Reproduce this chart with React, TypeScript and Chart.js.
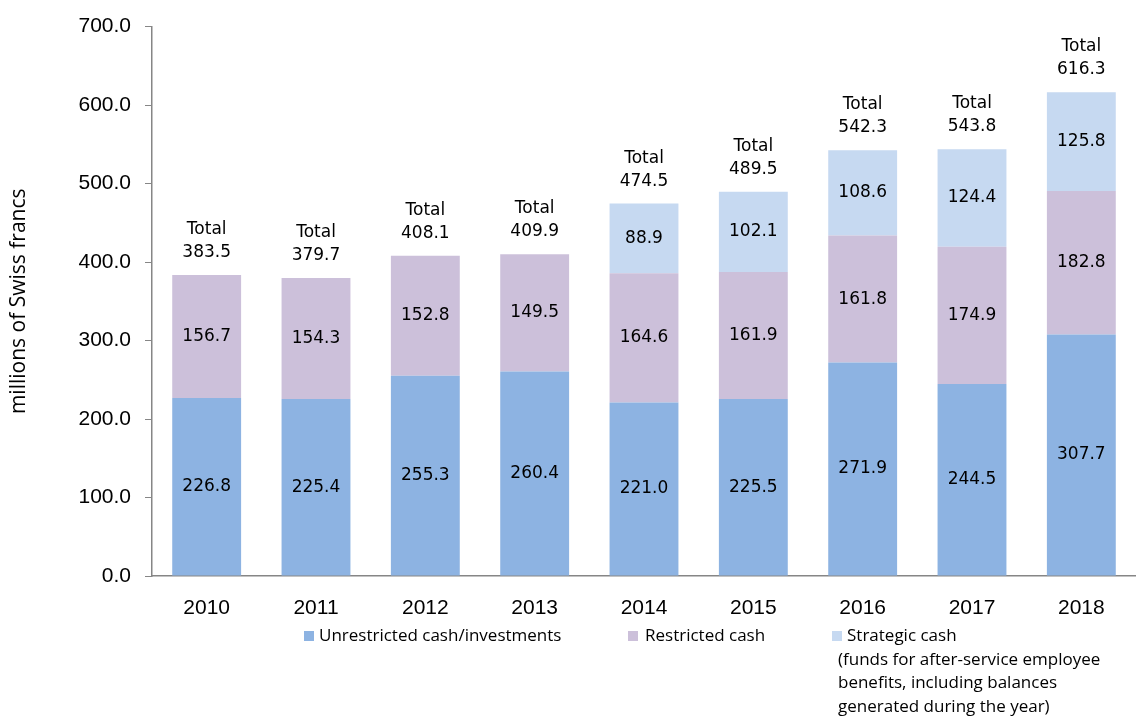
import React, { useEffect, useRef } from "react";
import { Chart, registerables } from "chart.js";

Chart.register(...registerables);

const years = ["2010", "2011", "2012", "2013", "2014", "2015", "2016", "2017", "2018"];
const unrestricted = [226.8, 225.4, 255.3, 260.4, 221.0, 225.5, 271.9, 244.5, 307.7];
const restricted = [156.7, 154.3, 152.8, 149.5, 164.6, 161.9, 161.8, 174.9, 182.8];
const strategic = [0, 0, 0, 0, 88.9, 102.1, 108.6, 124.4, 125.8];
const totals = [383.5, 379.7, 408.1, 409.9, 474.5, 489.5, 542.3, 543.8, 616.3];

const seriesNames = ["Unrestricted cash/investments", "Restricted cash", "Strategic cash"];
const strategicNote = [
  "(funds for after-service employee",
  "benefits, including balances",
  "generated during the year)",
];
const colors = ["#8DB3E2", "#CCC0DA", "#C6D9F1"];

const labelFont = '17px "DejaVu Sans", sans-serif';
const legendFont = '17px "Open Sans", sans-serif';

const labelsPlugin = {
  id: "barLabels",
  afterDatasetsDraw(chart: any) {
    const ctx = chart.ctx;
    ctx.save();
    ctx.font = labelFont;
    ctx.fillStyle = "#000";
    ctx.textAlign = "center";
    ctx.textBaseline = "middle";
    chart.data.datasets.forEach((ds: any, i: number) => {
      const meta = chart.getDatasetMeta(i);
      meta.data.forEach((el: any, j: number) => {
        const v = ds.data[j];
        if (!v) return;
        ctx.fillText(v.toFixed(1), el.x, (el.y + el.base) / 2);
      });
    });
    const yScale = chart.scales.y;
    const meta0 = chart.getDatasetMeta(0);
    ctx.textBaseline = "alphabetic";
    totals.forEach((t, j) => {
      const x = meta0.data[j].x;
      const top = yScale.getPixelForValue(t);
      ctx.fillText(t.toFixed(1), x, top - 18);
      ctx.fillText("Total", x, top - 41);
    });
    ctx.restore();
  },
};

const legendPlugin = {
  id: "customLegend",
  afterDraw(chart: any) {
    const ctx = chart.ctx;
    ctx.save();
    ctx.font = legendFont;
    ctx.textBaseline = "middle";
    ctx.textAlign = "left";
    const items = [
      { box: 304, text: 319 },
      { box: 628, text: 645 },
      { box: 832, text: 847 },
    ];
    const y = 636;
    items.forEach((it, i) => {
      ctx.fillStyle = colors[i];
      ctx.fillRect(it.box, y - 5, 10, 10);
      ctx.fillStyle = "#000";
      ctx.fillText(seriesNames[i], it.text, y);
    });
    strategicNote.forEach((line, k) => {
      ctx.fillText(line, 838, 660 + k * 23.5);
    });
    ctx.restore();
  },
};

export default function App() {
  const ref = useRef<HTMLCanvasElement>(null);
  useEffect(() => {
    if (!ref.current) return;
    const chart = new Chart(ref.current, {
      type: "bar",
      data: {
        labels: years,
        datasets: [
          { label: seriesNames[0], data: unrestricted, backgroundColor: colors[0] },
          { label: seriesNames[1], data: restricted, backgroundColor: colors[1] },
          { label: seriesNames[2], data: strategic, backgroundColor: colors[2] },
        ].map((d) => ({ ...d, categoryPercentage: 1, barPercentage: 0.63, borderWidth: 0 })),
      },
      options: {
        animation: false,
        responsive: false,
        maintainAspectRatio: false,
        layout: { padding: { top: 25, left: 0, right: 0, bottom: 0 } },
        plugins: { legend: { display: false }, tooltip: { enabled: false } },
        scales: {
          x: {
            stacked: true,
            grid: { display: false },
            border: { display: true, color: "#868686", width: 1.5 },
            ticks: {
              color: "#000",
              font: { family: '"Liberation Sans", Arial, sans-serif', size: 21 },
              padding: 12,
            },
            afterFit: (s: any) => {
              s.height = 141;
            },
          },
          y: {
            stacked: true,
            min: 0,
            max: 700,
            grid: { drawOnChartArea: false, tickLength: 7, color: "#868686" },
            border: { display: true, color: "#868686", width: 1.5 },
            ticks: {
              stepSize: 100,
              color: "#000",
              padding: 14,
              font: { family: '"Liberation Sans", Arial, sans-serif', size: 21 },
              callback: (v: any) => Number(v).toFixed(1),
            },
            title: {
              display: true,
              text: "millions of Swiss francs",
              color: "#000",
              font: { family: '"Open Sans", sans-serif', size: 21 },
              padding: { top: 6, bottom: 0 },
            },
            afterFit: (s: any) => {
              s.width = 152;
            },
          },
        },
      },
      plugins: [labelsPlugin, legendPlugin],
    });
    return () => chart.destroy();
  }, []);
  return (
    <div style={{ position: "absolute", left: 0, top: 0, width: 1136, height: 717, background: "#fff" }}>
      <canvas ref={ref} width={1136} height={717} style={{ width: 1136, height: 717 }} />
    </div>
  );
}
